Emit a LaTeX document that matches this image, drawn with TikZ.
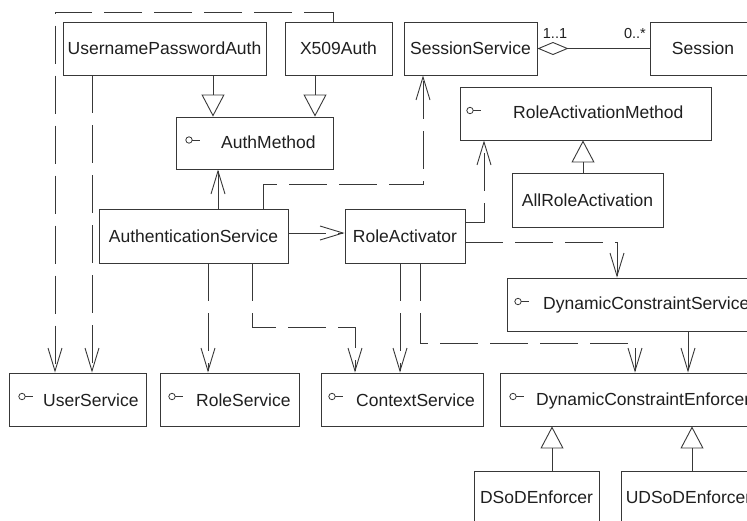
\documentclass[tikz,border=0pt]{standalone}
\usepackage{fontspec}
\setmainfont{Liberation Sans}
\usetikzlibrary{arrows.meta,calc}
\definecolor{ln}{gray}{0.22}
\definecolor{tx}{gray}{0.12}
\newcommand\ifaceicon[2]{\draw[iface] (#1,#2) circle[radius=3.2pt]; \draw[iface] (#1+3.2,#2) -- (#1+11,#2);}
\begin{document}
\begin{tikzpicture}[x=1pt,y=-1pt,
  box/.style={draw=ln, line width=0.9pt, rectangle, minimum height=53pt, inner sep=0pt,
    text=tx, font=\fontsize{17.5}{21}\selectfont, text height=12.6pt, text depth=0pt},
  lbl/.style={text=tx, font=\fontsize{17.5}{21}\selectfont, inner sep=0pt, anchor=base west},
  dep/.style={draw=ln, line width=0.9pt, dash pattern=on 38pt off 12pt,
    -{Straight Barb[length=23pt,width=14pt]}},
  gen/.style={draw=ln, line width=0.9pt, -{Triangle[open,length=22pt,width=23pt]}},
  agg/.style={draw=ln, line width=0.9pt, {Diamond[open,length=31pt,width=13pt]}-},
  iface/.style={draw=ln, line width=0.8pt},
  mult/.style={text=tx, font=\fontsize{14.5}{17}\selectfont, inner sep=0pt, anchor=base}]
\useasboundingbox (0,0) rectangle (747,520);
\clip (0,0) rectangle (747,520);

% boxes
\node[box, minimum width=203pt] (upa) at (164.5,48.5) {UsernamePasswordAuth};
\node[box, minimum width=107pt] (x509) at (338.5,48.5) {X509Auth};
\node[box, minimum width=133pt] (ss) at (470.5,48.5) {SessionService};
\node[box, minimum width=106pt] (sess) at (703,48.5) {Session};
\node[box, minimum width=157pt, minimum height=52pt] (am) at (254.5,143) {};
\node[box, minimum width=251pt] (ram) at (585.5,113.5) {};
\node[box, minimum width=151pt, minimum height=54pt] (ara) at (587.5,200) {AllRoleActivation};
\node[box, minimum width=189pt, minimum height=54pt] (as) at (193.5,236) {AuthenticationService};
\node[box, minimum width=120pt, minimum height=54pt] (ra) at (405,236) {RoleActivator};
\node[box, minimum width=253pt] (dcs) at (633.5,304.5) {};
\node[box, minimum width=137pt] (us) at (77.5,399.5) {};
\node[box, minimum width=139pt] (rs) at (229.5,399.5) {};
\node[box, minimum width=162pt] (cs) at (402,399.5) {};
\node[box, minimum width=265pt] (dce) at (632.5,399.5) {};
\node[box, minimum width=125pt] (dsod) at (536.5,497.5) {DSoDEnforcer};
\node[box, minimum width=135pt] (udsod) at (688.5,497.5) {UDSoDEnforcer};

% interface labels
\node[lbl] (amT) at (221,148.5) {AuthMethod};
\ifaceicon{189}{140}
\node[lbl] (ramT) at (513,118.5) {RoleActivationMethod};
\ifaceicon{470}{110.5}
\node[lbl] (dcsT) at (543,309.5) {DynamicConstraintService};
\ifaceicon{518}{301.5}
\node[lbl] (usT) at (43,406) {UserService};
\ifaceicon{22}{396.5}
\node[lbl] (rsT) at (196,406) {RoleService};
\ifaceicon{172}{396.5}
\node[lbl] (csT) at (356,406) {ContextService};
\ifaceicon{332}{396.5}
\node[lbl] (dceT) at (536,405.5) {DynamicConstraintEnforcer};
\ifaceicon{513}{396.5}

% connectors
\draw[dep] ([xshift=-5.5pt]x509.north) -- ++(0,-9) -| ([xshift=-22.5pt]us.north);
\draw[dep] ([xshift=-72.5pt]upa.south) -- ([xshift=14.5pt]us.north);
\draw[gen] ([xshift=48.5pt]upa.south) -- ([xshift=-41.5pt]am.north);
\draw[gen] ([xshift=-23.5pt]x509.south) -- ([xshift=60.5pt]am.north);
\draw[dep] ([xshift=24.5pt]as.north) -- ([xshift=-36.5pt]am.south);
\draw[dep] ([xshift=69.5pt]as.north) -- ++(0,-24) -| ([xshift=-47.5pt]ss.south);
\draw[dep] ([yshift=3pt]as.east) -- ([yshift=3pt]ra.west);
\draw[dep] ([yshift=14pt]ra.east) -| ([xshift=-101.5pt]ram.south);
\draw[dep] ([yshift=-6.5pt]ra.east) -| ([xshift=-16.5pt]dcs.north);
\draw[dep] ([xshift=-5pt]ra.south) -- ([xshift=-2pt]cs.north);
\draw[dep] ([xshift=15pt]ra.south) -- ++(0,80) -| ([xshift=2.5pt]dce.north);
\draw[dep] ([xshift=14.5pt]as.south) -- ([xshift=-21.5pt]rs.north);
\draw[dep] ([xshift=58.5pt]as.south) -- ++(0,64) -| ([xshift=-47pt]cs.north);
\draw[dep] ([xshift=54.5pt]dcs.south) -- ([xshift=55.5pt]dce.north);
\draw[gen] ([xshift=15.5pt]dsod.north) -- ([xshift=-80.5pt]dce.south);
\draw[gen] ([xshift=3.5pt]udsod.north) -- ([xshift=59.5pt]dce.south);
\draw[gen] ([xshift=-4.5pt]ara.north) -- ([xshift=-2.5pt]ram.south);
\draw[agg] (ss.east) -- (sess.west);
\node[mult] (m1) at (555,38) {1..1};
\node[mult] (m2) at (635,38) {0..*};
\end{tikzpicture}
\end{document}
